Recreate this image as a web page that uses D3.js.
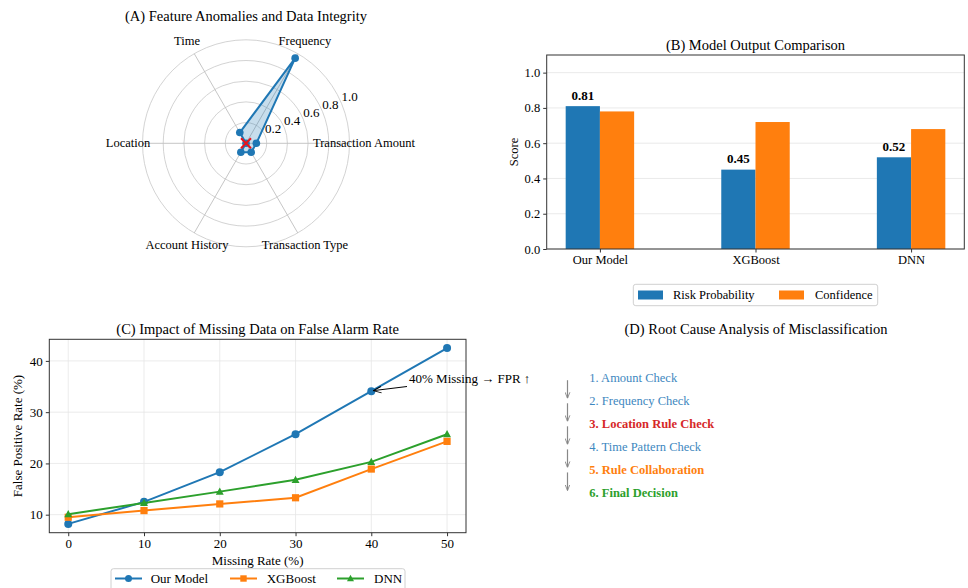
<!DOCTYPE html>
<html><head><meta charset="utf-8">
<script src="https://cdn.jsdelivr.net/npm/d3@7"></script>
<style>
html,body{margin:0;padding:0;background:#fff;}
svg{display:block;font-family:"Liberation Serif","Times New Roman",serif;}
</style></head>
<body><svg id="chart" width="968" height="588"></svg>
<script>
// ---------- data ----------
const radarCategories = ["Transaction Amount","Frequency","Time","Location","Account History","Transaction Type"];
const radarValues = [0.1, 0.95, 0.12, 0.0, 0.1, 0.1];
const radarTicks = [0.2, 0.4, 0.6, 0.8, 1.0];
const missingFeatureIndex = [3];

const barModels = ["Our Model","XGBoost","DNN"];
const riskProbability = [0.81, 0.45, 0.52];
const confidence = [0.78, 0.72, 0.68];
const barTicks = [0.0, 0.2, 0.4, 0.6, 0.8, 1.0];

const missingRates = [0, 10, 20, 30, 40, 50];
const fprOurModel = [8.2, 12.5, 18.3, 25.7, 34.1, 42.5];
const fprXGBoost = [9.5, 10.8, 12.1, 13.3, 18.9, 24.3];
const fprDNN = [10.1, 12.3, 14.5, 16.8, 20.3, 25.7];
const fprTicks = [10, 20, 30, 40];

const steps = ["1. Amount Check","2. Frequency Check","3. Location Rule Check","4. Time Pattern Check","5. Rule Collaboration","6. Final Decision"];
const stepColors = ["#3d87c0","#3d87c0","#d62728","#3d87c0","#ff7f0e","#2ca02c"];
const stepBold = [false,false,true,false,true,true];

const C_BLUE="#1f77b4", C_ORANGE="#ff7f0e", C_GREEN="#2ca02c";
const FS=12.5, TS=14.5;
const svg = d3.select("#chart");

// arrow markers
const defs = svg.append("defs");
defs.append("marker").attr("id","arrBlack").attr("viewBox","0 0 10 10").attr("refX",10).attr("refY",5)
  .attr("markerWidth",8).attr("markerHeight",8).attr("orient","auto-start-reverse").attr("markerUnits","userSpaceOnUse")
  .append("path").attr("d","M0,1 L10,5 L0,9").attr("fill","none").attr("stroke","#000").attr("stroke-width",1.2);
defs.append("marker").attr("id","arrGray").attr("viewBox","0 0 10 10").attr("refX",10).attr("refY",5)
  .attr("markerWidth",6).attr("markerHeight",6).attr("orient","auto").attr("markerUnits","userSpaceOnUse")
  .append("path").attr("d","M0,1 L10,5 L0,9").attr("fill","none").attr("stroke","#888").attr("stroke-width",1.5);

// ---------- (A) Radar ----------
(function(){
  const cx=246, cy=143.3, R=103.5;
  const g = svg.append("g");
  const r = d3.scaleLinear().domain([0,1]).range([0,R]);
  const ang = d3.scaleLinear().domain([0, radarCategories.length]).range([0, 2*Math.PI]);
  const pt = (i,v)=>[cx + r(v)*Math.cos(ang(i)), cy - r(v)*Math.sin(ang(i))];
  g.append("text").attr("x",cx).attr("y",21).attr("text-anchor","middle").attr("font-size",TS).text("(A) Feature Anomalies and Data Integrity");
  g.selectAll("circle.grid").data(radarTicks).join("circle")
    .attr("cx",cx).attr("cy",cy).attr("r",d=>r(d)).attr("fill","none").attr("stroke","#c8c8c8").attr("stroke-width",0.8);
  radarCategories.forEach((c,i)=>{
    const p=pt(i,1);
    g.append("line").attr("x1",cx).attr("y1",cy).attr("x2",p[0]).attr("y2",p[1]).attr("stroke","#c0c0c0").attr("stroke-width",0.9);
  });
  const la = Math.PI/8;
  radarTicks.forEach(t=>{
    g.append("text").attr("x",cx + r(t)*Math.cos(la)+8).attr("y",cy - r(t)*Math.sin(la)-7)
      .attr("text-anchor","middle").attr("dominant-baseline","central").attr("font-size",FS+0.5).text(t.toFixed(1));
  });
  radarCategories.forEach((c,i)=>{
    const p=[cx + (R+14.5)*Math.cos(ang(i)), cy - (R+14.5)*Math.sin(ang(i))];
    g.append("text").attr("x",p[0]).attr("y",p[1]).attr("text-anchor","middle").attr("dominant-baseline","central")
      .attr("font-size",FS).text(c);
  });
  const pts = radarValues.map((v,i)=>pt(i,v));
  g.append("path").attr("d", d3.line()(pts.concat([pts[0]])))
    .attr("fill",C_BLUE).attr("fill-opacity",0.25).attr("stroke",C_BLUE).attr("stroke-width",2).attr("stroke-linejoin","round");
  g.selectAll("circle.pt").data(pts).join("circle").attr("cx",d=>d[0]).attr("cy",d=>d[1]).attr("r",3.8).attr("fill",C_BLUE);
  missingFeatureIndex.forEach(i=>{
    const p=pt(i,radarValues[i]); const s=5;
    g.append("path").attr("d",`M${p[0]-s},${p[1]-s}L${p[0]+s},${p[1]+s}M${p[0]-s},${p[1]+s}L${p[0]+s},${p[1]-s}`)
      .attr("stroke","#e8141c").attr("stroke-width",2);
  });
})();

// ---------- (B) Bars ----------
(function(){
  const L=546.7, Rr=964.3, T=55, B=249;
  const g=svg.append("g");
  const w=0.22;
  const x=d3.scaleLinear().domain([-w-0.122, barModels.length-1+w+0.122]).range([L,Rr]);
  const y=d3.scaleLinear().domain([0,1.1]).range([B,T]);
  g.append("text").attr("x",(L+Rr)/2).attr("y",50).attr("text-anchor","middle").attr("font-size",TS).text("(B) Model Output Comparison");
  g.selectAll("line.grid").data(barTicks).join("line").attr("x1",L).attr("x2",Rr).attr("y1",d=>y(d)).attr("y2",d=>y(d))
    .attr("stroke","#e4e4e4").attr("stroke-width",0.8);
  barModels.forEach((m,i)=>{
    g.append("rect").attr("x",x(i-w)).attr("y",y(riskProbability[i])).attr("width",x(i)-x(i-w)).attr("height",y(0)-y(riskProbability[i])).attr("fill",C_BLUE);
    g.append("rect").attr("x",x(i)).attr("y",y(confidence[i])).attr("width",x(i+w)-x(i)).attr("height",y(0)-y(confidence[i])).attr("fill",C_ORANGE);
    g.append("text").attr("x",x(i-w/2)).attr("y",y(riskProbability[i]+0.02)-3).attr("text-anchor","middle")
      .attr("font-size",FS+0.5).attr("font-weight","bold").text(riskProbability[i].toFixed(2));
  });
  const ya=g.append("g").attr("transform",`translate(${L},0)`).call(d3.axisLeft(y).tickValues(barTicks).tickFormat(d3.format(".1f")).tickSize(3.5).tickPadding(3));
  const xa=g.append("g").attr("transform",`translate(0,${B})`).call(d3.axisBottom(x).tickValues(d3.range(barModels.length)).tickFormat(i=>barModels[i]).tickSize(3.5).tickPadding(3));
  [ya,xa].forEach(a=>{a.select(".domain").remove(); a.selectAll("text").attr("font-size",FS).attr("font-family","Liberation Serif").attr("fill","#000"); a.selectAll("line").attr("stroke","#333");});
  g.append("rect").attr("x",L).attr("y",T).attr("width",Rr-L).attr("height",B-T).attr("fill","none").attr("stroke","#333").attr("stroke-width",1);
  g.append("text").attr("transform",`translate(518,${(T+B)/2}) rotate(-90)`).attr("text-anchor","middle").attr("font-size",FS).text("Score");
  const lg=g.append("g");
  lg.append("rect").attr("x",633.3).attr("y",284.3).attr("width",244.4).attr("height",21.4).attr("rx",2.5).attr("fill","#fff").attr("stroke","#d0d0d0");
  [["Risk Probability",C_BLUE,638,673],["Confidence",C_ORANGE,779,815]].forEach(d=>{
    lg.append("rect").attr("x",d[2]).attr("y",290.5).attr("width",25).attr("height",9).attr("fill",d[1]);
    lg.append("text").attr("x",d[3]).attr("y",295).attr("dominant-baseline","central").attr("font-size",FS).text(d[0]);
  });
})();

// ---------- (C) Lines ----------
(function(){
  const L=49.3, Rr=466, T=339.3, B=532.7;
  const g=svg.append("g");
  const all=fprOurModel.concat(fprXGBoost,fprDNN);
  const lo=d3.min(all), hi=d3.max(all), pad=(hi-lo)*0.05;
  const x=d3.scaleLinear().domain([-2.5,52.5]).range([L,Rr]);
  const y=d3.scaleLinear().domain([lo-pad,hi+pad]).range([B,T]);
  g.append("text").attr("x",(L+Rr)/2).attr("y",334).attr("text-anchor","middle").attr("font-size",TS).text("(C) Impact of Missing Data on False Alarm Rate");
  missingRates.forEach(v=>g.append("line").attr("x1",x(v)).attr("x2",x(v)).attr("y1",T).attr("y2",B).attr("stroke","#e6e6e6").attr("stroke-width",0.8));
  fprTicks.forEach(v=>g.append("line").attr("x1",L).attr("x2",Rr).attr("y1",y(v)).attr("y2",y(v)).attr("stroke","#e6e6e6").attr("stroke-width",0.8));
  const series=[[fprOurModel,C_BLUE,"circle","Our Model"],[fprXGBoost,C_ORANGE,"square","XGBoost"],[fprDNN,C_GREEN,"triangle","DNN"]];
  const drawMarker=(sel,type,px,py,col,s)=>{
    if(type==="circle") sel.append("circle").attr("cx",px).attr("cy",py).attr("r",s).attr("fill",col);
    else if(type==="square") sel.append("rect").attr("x",px-s).attr("y",py-s).attr("width",2*s).attr("height",2*s).attr("fill",col);
    else sel.append("path").attr("d",`M${px},${py-s*1.15}L${px+s*1.1},${py+s*0.85}L${px-s*1.1},${py+s*0.85}Z`).attr("fill",col);
  };
  series.forEach(([vals,col,mk])=>{
    const pts=vals.map((v,i)=>[x(missingRates[i]),y(v)]);
    g.append("path").attr("d",d3.line()(pts)).attr("fill","none").attr("stroke",col).attr("stroke-width",2);
    pts.forEach(p=>drawMarker(g,mk,p[0],p[1],col,mk==="circle"?4:3.6));
  });
  const ya=g.append("g").attr("transform",`translate(${L},0)`).call(d3.axisLeft(y).tickValues(fprTicks).tickSize(3.5).tickPadding(3));
  const xa=g.append("g").attr("transform",`translate(0,${B})`).call(d3.axisBottom(x).tickValues(missingRates).tickSize(3.5).tickPadding(3));
  [ya,xa].forEach(a=>{a.select(".domain").remove(); a.selectAll("text").attr("font-size",FS+0.5).attr("font-family","Liberation Serif").attr("fill","#000"); a.selectAll("line").attr("stroke","#333");});
  g.append("rect").attr("x",L).attr("y",T).attr("width",Rr-L).attr("height",B-T).attr("fill","none").attr("stroke","#333").attr("stroke-width",1);
  g.append("text").attr("x",(L+Rr)/2).attr("y",565).attr("text-anchor","middle").attr("font-size",FS+0.5).text("Missing Rate (%)");
  g.append("text").attr("transform",`translate(22,${(T+B)/2}) rotate(-90)`).attr("text-anchor","middle").attr("font-size",FS+0.5).text("False Positive Rate (%)");
  const ai=missingRates.indexOf(40);
  g.append("line").attr("x1",407).attr("y1",386.5).attr("x2",x(40)+2).attr("y2",y(fprOurModel[ai])-0.5)
    .attr("stroke","#000").attr("stroke-width",1).attr("marker-end","url(#arrBlack)");
  g.append("text").attr("x",409).attr("y",378).attr("dominant-baseline","central").attr("font-size",FS+0.5).text("40% Missing → FPR ↑");
  const lg=g.append("g");
  lg.append("rect").attr("x",111).attr("y",568.7).attr("width",294).attr("height",30).attr("rx",2.5).attr("fill","#fff").attr("stroke","#d0d0d0");
  const lx=[[115,150.7],[230,266.7],[337,374]];
  series.forEach(([vals,col,mk,name],i)=>{
    lg.append("line").attr("x1",lx[i][0]).attr("x2",lx[i][0]+27).attr("y1",578.5).attr("y2",578.5).attr("stroke",col).attr("stroke-width",2);
    drawMarker(lg,mk,lx[i][0]+13.5,578.5,col,mk==="circle"?3.5:3.2);
    lg.append("text").attr("x",lx[i][1]).attr("y",578.5).attr("dominant-baseline","central").attr("font-size",FS+0.5).text(name);
  });
})();

// ---------- (D) Flow ----------
(function(){
  const g=svg.append("g");
  g.append("text").attr("x",756).attr("y",334).attr("text-anchor","middle").attr("font-size",TS).text("(D) Root Cause Analysis of Misclassification");
  const yS=d3.scalePoint().domain(d3.range(steps.length)).range([377.7,493]);
  steps.forEach((s,i)=>{
    g.append("text").attr("x",589.3).attr("y",yS(i)).attr("dominant-baseline","central").attr("font-size",FS)
      .attr("font-weight",stepBold[i]?"bold":"normal").attr("fill",stepColors[i]).text(s);
    if(i<steps.length-1){
      g.append("line").attr("x1",567.5).attr("x2",567.5).attr("y1",yS(i)+2.5).attr("y2",yS(i+1)-2.5)
        .attr("stroke","#888").attr("stroke-width",1.2).attr("marker-end","url(#arrGray)");
    }
  });
})();
</script></body></html>
